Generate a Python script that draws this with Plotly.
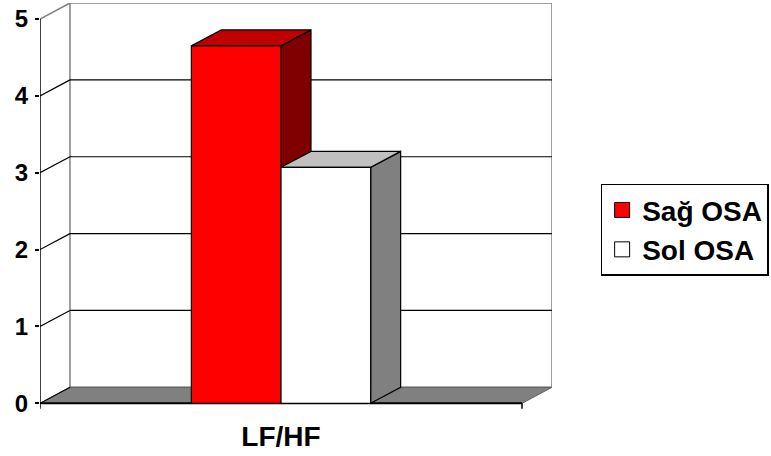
import plotly.graph_objects as go

# Data
categories = ["LF/HF"]
series_names = ["Sağ OSA", "Sol OSA"]
series_values = [4.65, 3.07]
y_ticks = [0, 1, 2, 3, 4, 5]

# Styling for the pseudo-3D column look
front_colors = ["#FF0000", "#FFFFFF"]
top_colors = ["#C00000", "#C0C0C0"]
side_colors = ["#800000", "#808080"]
DEPTH_X = 0.0622   # oblique depth offset in category units
DEPTH_Y = 0.208    # oblique depth offset in value units
BAR_W = 0.186      # width of each column in category units
Y_MAX = 5
WALL_GRAY = "#808080"
FONT = "Arial, Liberation Sans, sans-serif"

fig = go.Figure()


def poly(xs, ys, fill, line="black", width=1.2):
    fig.add_trace(go.Scatter(
        x=list(xs) + [xs[0]], y=list(ys) + [ys[0]], mode="lines", fill="toself",
        fillcolor=fill, line=dict(color=line, width=width),
        hoverinfo="skip", showlegend=False))


def seg(x0, y0, x1, y1, color="black", width=1.2):
    fig.add_trace(go.Scatter(
        x=[x0, x1], y=[y0, y1], mode="lines",
        line=dict(color=color, width=width),
        hoverinfo="skip", showlegend=False))


n_cat = len(categories)

# Back wall outline
poly([DEPTH_X, n_cat + DEPTH_X, n_cat + DEPTH_X, DEPTH_X],
     [DEPTH_Y, DEPTH_Y, Y_MAX + DEPTH_Y, Y_MAX + DEPTH_Y],
     "rgba(255,255,255,0)", line=WALL_GRAY, width=1.5)
seg(0, Y_MAX, DEPTH_X, Y_MAX + DEPTH_Y, color=WALL_GRAY, width=1.5)

# Gridlines on back wall and side wall
for v in y_ticks[1:-1]:
    seg(DEPTH_X, v + DEPTH_Y, n_cat + DEPTH_X, v + DEPTH_Y, width=1.2)
    seg(0, v, DEPTH_X, v + DEPTH_Y, width=1.2)

# Floor
poly([0, n_cat, n_cat + DEPTH_X, DEPTH_X], [0, 0, DEPTH_Y, DEPTH_Y],
     WALL_GRAY, line="#606060", width=1)
seg(0, 0, DEPTH_X, DEPTH_Y, width=1.2)

# Front axes
seg(0, 0, 0, Y_MAX, width=1.5)
seg(0, 0, n_cat, 0, width=2)
for xt in range(n_cat + 1):
    seg(xt, 0, xt, -0.07, width=1.5)

# Columns
for ci in range(n_cat):
    center = ci + 0.5
    start = center - BAR_W * len(series_values) / 2
    for si, val in enumerate(series_values):
        x0 = start + si * BAR_W
        x1 = x0 + BAR_W
        # side face
        poly([x1, x1 + DEPTH_X, x1 + DEPTH_X, x1],
             [0, DEPTH_Y, val + DEPTH_Y, val], side_colors[si])
        # top face
        poly([x0, x1, x1 + DEPTH_X, x0 + DEPTH_X],
             [val, val, val + DEPTH_Y, val + DEPTH_Y], top_colors[si])
        # front face
        poly([x0, x1, x1, x0], [0, 0, val, val], front_colors[si])

# Legend entries
for si, name in enumerate(series_names):
    fig.add_trace(go.Scatter(
        x=[None], y=[None], mode="markers", name=name,
        legendgroup=name,
        marker=dict(symbol="square", size=15, color=front_colors[si],
                    line=dict(color="black", width=1))))

fig.update_layout(
    width=771, height=456,
    margin=dict(l=40, r=219, t=3, b=45, autoexpand=False),
    paper_bgcolor="white", plot_bgcolor="white",
    font=dict(family=FONT, color="black"),
    xaxis=dict(range=[0, n_cat + DEPTH_X], showgrid=False, zeroline=False,
               showline=False, ticks="", automargin=False,
               tickvals=[i + 0.5 for i in range(n_cat)], ticktext=categories,
               tickfont=dict(size=28, family=FONT, weight="bold"),
               ticklabelstandoff=6, fixedrange=True),
    yaxis=dict(range=[-0.1, Y_MAX + DEPTH_Y], showgrid=False, zeroline=False,
               showline=False, ticks="outside", ticklen=4, tickwidth=1.5,
               tickcolor="black", tickvals=y_ticks, automargin=False,
               tickfont=dict(size=24, family=FONT, weight="bold"),
               ticklabelstandoff=2, fixedrange=True),
    legend=dict(x=1.095, y=0.557, xanchor="left", yanchor="top",
                bordercolor="black", borderwidth=1.5, bgcolor="white",
                font=dict(size=28, family=FONT, weight="bold"),
                traceorder="grouped", tracegroupgap=0, itemwidth=30),
    showlegend=True,
)

fig.write_html("out.html")
